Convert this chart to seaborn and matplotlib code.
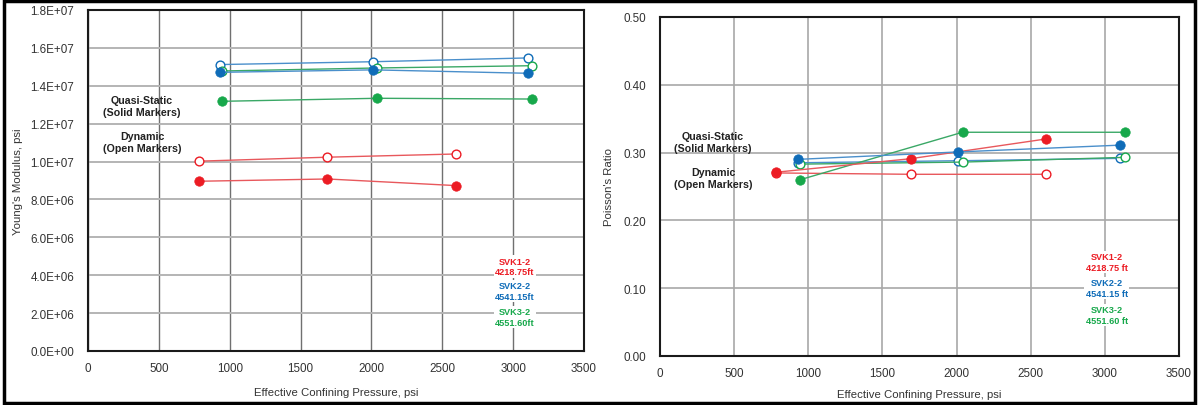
import matplotlib
matplotlib.use("Agg")
import matplotlib.pyplot as plt
import seaborn as sns
import pandas as pd
from matplotlib.ticker import FuncFormatter, MultipleLocator
from matplotlib.patches import Rectangle

# ---------------- data ----------------
series_names = ["SVK1-2", "SVK2-2", "SVK3-2"]
depth_labels = ["4218.75ft", "4541.15ft", "4551.60ft"]
depth_labels_r = ["4218.75 ft", "4541.15 ft", "4551.60 ft"]

# Young's modulus (psi)
svk1_p = [780, 1690, 2600]
svk1_ym_static = [8.96e6, 9.08e6, 8.73e6]
svk1_ym_dynamic = [1.002e7, 1.023e7, 1.040e7]

svk2_p = [930, 2012, 3102]
svk2_ym_static = [1.471e7, 1.484e7, 1.466e7]
svk2_ym_dynamic = [1.512e7, 1.527e7, 1.547e7]

svk3_p = [945, 2040, 3136]
svk3_ym_static = [1.318e7, 1.334e7, 1.330e7]
svk3_ym_dynamic = [1.478e7, 1.494e7, 1.506e7]

# Poisson's ratio
svk1_pr_static = [0.271, 0.291, 0.320]
svk1_pr_dynamic = [0.270, 0.268, 0.268]

svk2_pr_static = [0.290, 0.301, 0.311]
svk2_pr_dynamic = [0.285, 0.288, 0.2915]

svk3_pr_static = [0.260, 0.330, 0.330]
svk3_pr_dynamic = [0.283, 0.286, 0.293]

colors_marker = ["#ec1c24", "#0f6cb8", "#17a84b"]
colors_line = ["#e8585c", "#4a8fcb", "#3aa866"]

# ---------------- figure ----------------
sns.set_style("white")
plt.rcParams["font.family"] = ["Liberation Sans", "DejaVu Sans"]

fig = plt.figure(figsize=(11.99, 4.06), dpi=100)
axL = fig.add_axes([88 / 1199, 1 - 352 / 406, (584 - 88) / 1199, (352 - 11) / 406])
axR = fig.add_axes([660 / 1199, 1 - 357 / 406, (1179 - 660) / 1199, (357 - 18) / 406])

pressures = [svk1_p, svk2_p, svk3_p]
ym_static = [svk1_ym_static, svk2_ym_static, svk3_ym_static]
ym_dynamic = [svk1_ym_dynamic, svk2_ym_dynamic, svk3_ym_dynamic]
pr_static = [svk1_pr_static, svk2_pr_static, svk3_pr_static]
pr_dynamic = [svk1_pr_dynamic, svk2_pr_dynamic, svk3_pr_dynamic]


def draw(ax, static, dynamic):
    # dynamic (open markers) first, then static (solid)
    for i in range(3):
        df = pd.DataFrame({"p": pressures[i], "v": dynamic[i]})
        sns.lineplot(data=df, x="p", y="v", ax=ax, color=colors_line[i],
                     linewidth=1.0, marker="o", markersize=6.3,
                     markerfacecolor="white", markeredgecolor=colors_marker[i],
                     markeredgewidth=1.0, zorder=3, sort=False)
    for i in [2, 0, 1]:
        df = pd.DataFrame({"p": pressures[i], "v": static[i]})
        sns.lineplot(data=df, x="p", y="v", ax=ax, color=colors_line[i],
                     linewidth=1.0, marker="o", markersize=6.8,
                     markerfacecolor=colors_marker[i], markeredgecolor=colors_marker[i],
                     markeredgewidth=0.5, zorder=4, sort=False)


draw(axL, ym_static, ym_dynamic)
draw(axR, pr_static, pr_dynamic)

# Left axes
axL.set_xlim(0, 3500)
axL.set_ylim(0, 1.8e7)
axL.xaxis.set_major_locator(MultipleLocator(500))
axL.yaxis.set_major_locator(MultipleLocator(2e6))
axL.yaxis.set_major_formatter(FuncFormatter(lambda v, _: f"{v:.1E}"))
axL.set_ylabel("Young's Modulus, psi", fontsize=8.2, color="#333333", labelpad=5)
axL.set_xlabel("Effective Confining Pressure, psi", fontsize=8.2, color="#333333", labelpad=9)
axL.xaxis.grid(True, color="#707070", linewidth=1.0)
axL.yaxis.grid(True, color="#b4b4b4", linewidth=1.4)

# Right axes
axR.set_xlim(0, 3500)
axR.set_ylim(0, 0.5)
axR.xaxis.set_major_locator(MultipleLocator(500))
axR.yaxis.set_major_locator(MultipleLocator(0.1))
axR.yaxis.set_major_formatter(FuncFormatter(lambda v, _: f"{v:.2f}"))
axR.set_ylabel("Poisson's Ratio", fontsize=8.2, color="#333333", labelpad=7)
axR.set_xlabel("Effective Confining Pressure, psi", fontsize=8.2, color="#333333", labelpad=7)
axR.xaxis.grid(True, color="#a8a8a8", linewidth=1.2)
axR.yaxis.grid(True, color="#a8a8a8", linewidth=1.2)

for ax in (axL, axR):
    ax.set_axisbelow(True)
    ax.tick_params(axis="both", length=0, labelsize=8.4, labelcolor="#333333")
    ax.tick_params(axis="y", pad=10)
    ax.tick_params(axis="x", pad=8)
    for s in ax.spines.values():
        s.set_visible(True)
        s.set_color("#1a1a1a")
        s.set_linewidth(1.5)

# Annotations
ann = dict(ha="center", va="center", fontsize=7.7, fontweight="bold", color="#222222",
           linespacing=1.25)
axL.text(0.109, 0.718, "Quasi-Static\n(Solid Markers)", transform=axL.transAxes, **ann)
axL.text(0.109, 0.613, "Dynamic\n(Open Markers)", transform=axL.transAxes, **ann)
axR.text(0.102, 0.63, "Quasi-Static\n(Solid Markers)", transform=axR.transAxes, **ann)
axR.text(0.102, 0.525, "Dynamic\n(Open Markers)", transform=axR.transAxes, **ann)

lab = dict(ha="center", va="center", fontsize=6.6, fontweight="bold", linespacing=1.2,
           bbox=dict(facecolor="white", edgecolor="none", pad=1.0), zorder=5)
for i, y in enumerate([0.248, 0.176, 0.100]):
    axL.text(0.861, y, f"{series_names[i]}\n{depth_labels[i]}", color=colors_marker[i],
             transform=axL.transAxes, **lab)
for i, y in enumerate([0.277, 0.200, 0.121]):
    axR.text(0.861, y, f"{series_names[i]}\n{depth_labels_r[i]}", color=colors_marker[i],
             transform=axR.transAxes, **lab)

# outer frame
fig.patches.append(Rectangle((0.003, 0.006), 0.994, 0.988, transform=fig.transFigure,
                             fill=False, edgecolor="black", linewidth=2.5))

fig.savefig("out.png", dpi=100)
